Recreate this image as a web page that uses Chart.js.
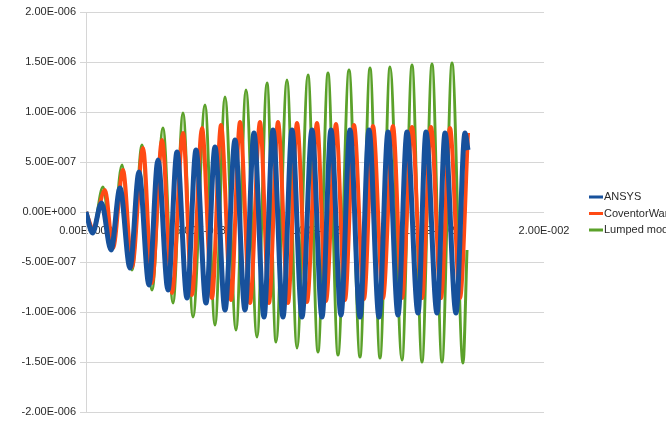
<!DOCTYPE html>
<html><head><meta charset="utf-8">
<script src="https://cdn.jsdelivr.net/npm/chart.js@4/dist/chart.umd.min.js"></script>
<style>html,body{margin:0;padding:0;background:#fff;overflow:hidden}#wrap{position:relative;width:666px;height:438px}</style>
</head><body><div id="wrap"><canvas id="c" width="666" height="438"></canvas></div>
<script>
const seriesNames = ['ANSYS', 'CoventorWare', 'Lumped model'];
const seriesColors = ['#17519c', '#ff4a14', '#5ba12a'];

const ansysT = [0, 0.000284, 0.000677, 0.001092, 0.001485, 0.001921, 0.002314, 0.002751, 0.003144, 0.003581, 0.003974, 0.004410, 0.004803, 0.005240, 0.005633, 0.006070, 0.006507, 0.006943, 0.007336, 0.007773, 0.008166, 0.008603, 0.008996, 0.009432, 0.009869, 0.010306, 0.010699, 0.011135, 0.011528, 0.011965, 0.012358, 0.012795, 0.013188, 0.013624, 0.014017, 0.014498, 0.014847, 0.015328, 0.015677, 0.016157, 0.016550, 0.016681];
const ansysY = [0, -2.1e-7, 0.9e-7, -3.8e-7, 2.4e-7, -5.6e-7, 4.0e-7, -7.3e-7, 5.2e-7, -7.8e-7, 6.0e-7, -8.6e-7, 6.2e-7, -9.1e-7, 6.5e-7, -9.8e-7, 7.2e-7, -9.8e-7, 7.9e-7, -10.5e-7, 8.2e-7, -10.5e-7, 8.2e-7, -10.5e-7, 8.2e-7, -10.5e-7, 8.2e-7, -10.3e-7, 8.2e-7, -10.5e-7, 8.2e-7, -10.5e-7, 8.0e-7, -10.3e-7, 8.0e-7, -10.1e-7, 8.0e-7, -10.1e-7, 7.9e-7, -10.1e-7, 7.9e-7, 6.2e-7];

const coventorT = [0, 0.000306, 0.000830, 0.001179, 0.001616, 0.002009, 0.002489, 0.002882, 0.003319, 0.003756, 0.004236, 0.004629, 0.005066, 0.005502, 0.005895, 0.006332, 0.006725, 0.007162, 0.007598, 0.007991, 0.008384, 0.008821, 0.009214, 0.009651, 0.010087, 0.010480, 0.010917, 0.011310, 0.011703, 0.012140, 0.012533, 0.012969, 0.013406, 0.013799, 0.014236, 0.014672, 0.015066, 0.015502, 0.015895, 0.016332, 0.016681];
const coventorY = [0, -1.6e-7, 2.2e-7, -3.6e-7, 4.2e-7, -5.5e-7, 6.4e-7, -7.1e-7, 7.2e-7, -8.1e-7, 7.9e-7, -8.3e-7, 8.4e-7, -8.6e-7, 8.7e-7, -8.8e-7, 9.0e-7, -9.1e-7, 9.0e-7, -9.1e-7, 9.0e-7, -9.1e-7, 8.9e-7, -9.0e-7, 8.9e-7, -8.9e-7, 8.8e-7, -8.8e-7, 8.7e-7, -8.7e-7, 8.6e-7, -8.6e-7, 8.6e-7, -8.6e-7, 8.5e-7, -8.6e-7, 8.5e-7, -8.6e-7, 8.4e-7, -8.6e-7, 7.9e-7];

const lumpedT = [0, 0.000306, 0.000742, 0.001135, 0.001572, 0.002009, 0.002445, 0.002882, 0.003362, 0.003799, 0.004236, 0.004672, 0.005197, 0.005633, 0.006070, 0.006550, 0.006987, 0.007467, 0.007904, 0.008297, 0.008777, 0.009214, 0.009694, 0.010131, 0.010568, 0.011004, 0.011485, 0.011965, 0.012402, 0.012838, 0.013275, 0.013799, 0.014236, 0.014672, 0.015109, 0.015546, 0.015983, 0.016463, 0.016638];
const lumpedY = [0, -1.8e-7, 2.5e-7, -3.6e-7, 4.7e-7, -5.8e-7, 6.7e-7, -7.8e-7, 8.4e-7, -9.1e-7, 9.9e-7, -10.5e-7, 10.7e-7, -11.3e-7, 11.5e-7, -11.8e-7, 12.2e-7, -12.5e-7, 12.9e-7, -13.0e-7, 13.2e-7, -13.6e-7, 13.7e-7, -14.0e-7, 13.9e-7, -14.3e-7, 14.2e-7, -14.5e-7, 14.4e-7, -14.6e-7, 14.5e-7, -14.8e-7, 14.7e-7, -15.0e-7, 14.8e-7, -15.0e-7, 14.9e-7, -15.1e-7, -3.8e-7];

const yTicks = [-2e-6, -1.5e-6, -1e-6, -5e-7, 0, 5e-7, 1e-6, 1.5e-6, 2e-6];
const yTickLabels = ['-2.00E-006', '-1.50E-006', '-1.00E-006', '-5.00E-007', '0.00E+000', '5.00E-007', '1.00E-006', '1.50E-006', '2.00E-006'];
const xTicks = [0, 0.005, 0.01, 0.015, 0.02];
const xTickLabels = ['0.00E+000', '5.00E-003', '1.00E-002', '1.50E-002', '2.00E-002'];

Chart.defaults.font.family = "'Liberation Sans', Arial, sans-serif";

function pts(t, v) { return t.map((x, i) => ({ x: x, y: v[i] })); }

const sideLegend = {
  id: 'sideLegend',
  afterDraw(chart) {
    const ctx = chart.ctx;
    ctx.save();
    ctx.font = "11px 'Liberation Sans', Arial, sans-serif";
    ctx.textBaseline = 'middle';
    const x0 = 589, ys = [197, 213.5, 230];
    seriesNames.forEach((n, i) => {
      ctx.fillStyle = seriesColors[i];
      ctx.fillRect(x0, ys[i] - 1.5, 14, 3);
      ctx.fillStyle = '#2a2a2a';
      ctx.fillText(n, x0 + 15, ys[i]);
    });
    ctx.restore();
  }
};

const widths = [5, 4, 3];
const tSets = [ansysT, coventorT, lumpedT];
const ySets = [ansysY, coventorY, lumpedY];

new Chart(document.getElementById('c'), {
  type: 'scatter',
  data: {
    datasets: seriesNames.map((n, i) => ({
      label: n,
      data: pts(tSets[i], ySets[i]),
      showLine: true,
      borderColor: seriesColors[i],
      backgroundColor: seriesColors[i],
      borderWidth: widths[i],
      pointRadius: 0,
      cubicInterpolationMode: 'monotone',
      fill: false
    }))
  },
  options: {
    responsive: false,
    animation: false,
    devicePixelRatio: 1,
    layout: { padding: { top: 12, bottom: 26, left: 0, right: 122 } },
    plugins: { legend: { display: false }, tooltip: { enabled: false } },
    scales: {
      x: {
        type: 'linear', min: 0, max: 0.02, position: { y: 0 },
        afterBuildTicks(s) { s.ticks = xTicks.map(v => ({ value: v })); },
        ticks: { callback: (v, i) => xTickLabels[i], color: '#2a2a2a', font: { size: 11 }, padding: 4, maxRotation: 0, autoSkip: false },
        grid: { display: false, drawTicks: true, tickLength: 8 },
        border: { display: false }
      },
      y: {
        type: 'linear', min: -2e-6, max: 2e-6,
        afterBuildTicks(s) { s.ticks = yTicks.map(v => ({ value: v })); },
        afterFit(s) { s.width = 86; },
        ticks: { callback: (v, i) => yTickLabels[i], color: '#2a2a2a', font: { size: 11 }, padding: 4 },
        grid: { color: '#d6d6d6', lineWidth: 1, tickLength: 6 },
        border: { color: '#d6d6d6' }
      }
    }
  },
  plugins: [sideLegend]
});
</script>
</body></html>
